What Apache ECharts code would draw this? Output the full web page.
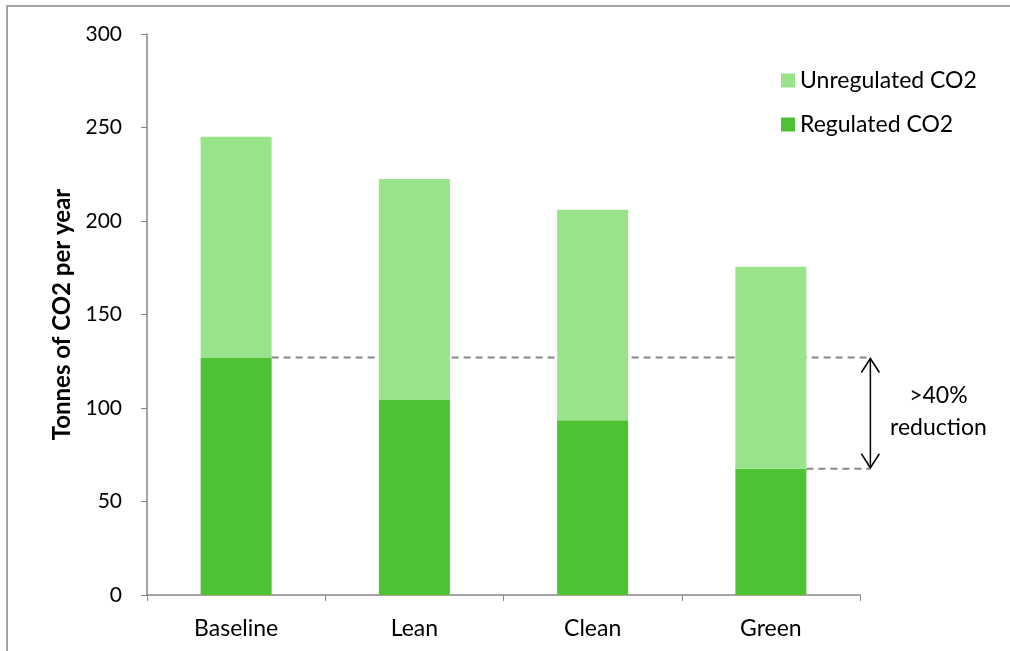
<!DOCTYPE html>
<html>
<head>
<meta charset="utf-8">
<style>
  html, body { margin: 0; padding: 0; background: #fff; }
  #main { width: 1010px; height: 651px; }
</style>
<script src="https://cdn.jsdelivr.net/npm/echarts@6/dist/echarts.min.js"></script>
</head>
<body>
<div id="main"></div>
<script>
// chart data
const categories = ['Baseline', 'Lean', 'Clean', 'Green'];
const regulated = [127, 104.5, 93.5, 67.5];
const unregulated = [118, 118, 112.5, 108];
const yTicks = [0, 50, 100, 150, 200, 250, 300];
const reductionText = '>40%\nreduction';

const FONT = 'Lato, "Open Sans", sans-serif';
const BAR_W = 71;

var myChart = echarts.init(document.getElementById('main'));

myChart.setOption({
  animation: false,
  textStyle: { fontFamily: FONT },
  grid: { left: 147, right: 150, top: 34, bottom: 56 },
  legend: {
    orient: 'vertical',
    left: 776,
    top: 64,
    itemWidth: 14,
    itemHeight: 14,
    itemGap: 21,
    icon: 'rect',
    data: ['Unregulated CO2', 'Regulated CO2'],
    textStyle: { fontFamily: FONT, fontSize: 23, color: '#000' }
  },
  xAxis: {
    type: 'category',
    data: categories,
    axisLine: { lineStyle: { color: '#868686', width: 1.5 } },
    axisTick: { show: true, length: 6, alignWithLabel: false, lineStyle: { color: '#868686' } },
    axisLabel: { fontSize: 23, color: '#000', margin: 22 }
  },
  yAxis: {
    type: 'value',
    min: yTicks[0],
    max: yTicks[yTicks.length - 1],
    interval: 50,
    name: 'Tonnes of CO2 per year',
    nameLocation: 'middle',
    nameGap: 72,
    nameTextStyle: { fontSize: 24, fontWeight: 'bold', color: '#000' },
    axisLine: { show: true, lineStyle: { color: '#868686', width: 1.5 } },
    axisTick: { show: true, length: 6, lineStyle: { color: '#868686' } },
    axisLabel: { fontSize: 21, color: '#000', margin: 25 },
    splitLine: { show: false }
  },
  series: [
    {
      name: 'Regulated CO2',
      type: 'bar',
      stack: 'co2',
      barWidth: BAR_W,
      itemStyle: { color: '#4fc233' },
      data: regulated
    },
    {
      name: 'Unregulated CO2',
      type: 'bar',
      stack: 'co2',
      barWidth: BAR_W,
      itemStyle: { color: '#99e38b' },
      data: unregulated
    }
  ]
});

// annotation: dashed guide lines and double arrow, placed through the chart scales
const first = 0, last = categories.length - 1;
const pTop = myChart.convertToPixel({ gridIndex: 0 }, [first, regulated[first]]);
const pBot = myChart.convertToPixel({ gridIndex: 0 }, [last, regulated[last]]);
const arrowX = pBot[0] + BAR_W / 2 + 64;
const dash = { stroke: '#888', lineWidth: 2, lineDash: [7, 5] };

myChart.setOption({
  graphic: [
    {
      type: 'rect',
      shape: { x: 7, y: 6, width: 1100, height: 700 },
      style: { fill: 'none', stroke: '#888', lineWidth: 1.5 },
      silent: true
    },
    {
      type: 'line',
      shape: { x1: pTop[0] + BAR_W / 2, y1: pTop[1], x2: arrowX, y2: pTop[1] },
      style: dash
    },
    {
      type: 'line',
      shape: { x1: pBot[0] + BAR_W / 2, y1: pBot[1], x2: arrowX, y2: pBot[1] },
      style: dash
    },
    {
      type: 'line',
      shape: { x1: arrowX, y1: pTop[1] + 1, x2: arrowX, y2: pBot[1] - 1 },
      style: { stroke: '#000', lineWidth: 1.5 }
    },
    {
      type: 'polyline',
      shape: { points: [[arrowX - 9, pTop[1] + 15], [arrowX, pTop[1] + 1], [arrowX + 9, pTop[1] + 15]] },
      style: { stroke: '#000', lineWidth: 1.5, fill: 'none' }
    },
    {
      type: 'polyline',
      shape: { points: [[arrowX - 9, pBot[1] - 15], [arrowX, pBot[1] - 1], [arrowX + 9, pBot[1] - 15]] },
      style: { stroke: '#000', lineWidth: 1.5, fill: 'none' }
    },
    {
      type: 'text',
      x: arrowX + 68,
      y: (pTop[1] + pBot[1]) / 2 - 2,
      style: {
        text: reductionText,
        fontFamily: FONT,
        fontSize: 23,
        lineHeight: 32,
        fill: '#000',
        align: 'center',
        verticalAlign: 'middle'
      }
    }
  ]
});
</script>
</body>
</html>
